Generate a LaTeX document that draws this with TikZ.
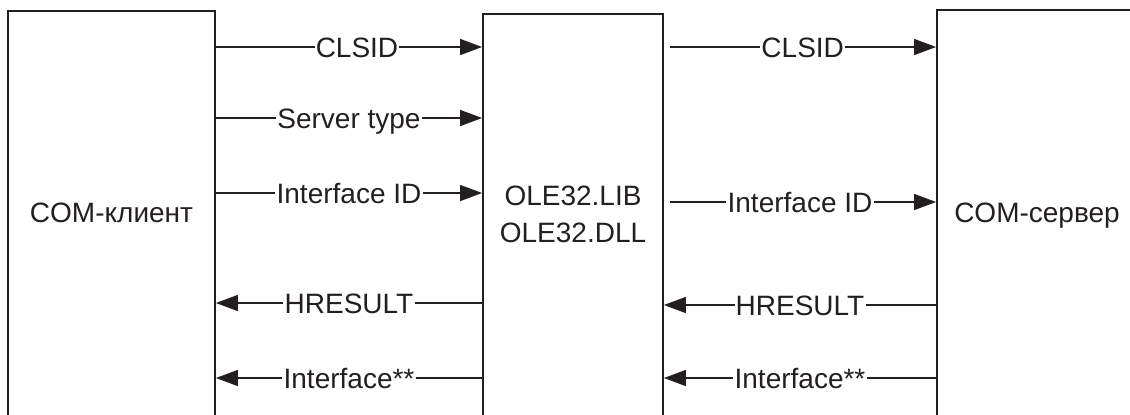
\documentclass[tikz,border=0pt]{standalone}
\usepackage{fontspec}
\setmainfont{Liberation Sans}
\usetikzlibrary{arrows.meta}
\definecolor{ink}{HTML}{231F20}
\tikzset{
  blk/.style={draw=ink, line width=0.9pt, rectangle, inner sep=0pt},
  msg/.style={draw=ink, line width=0.75pt, -{Triangle[length=11pt,width=8pt]}},
  lbl/.style={fill=white, text=ink, inner xsep=0.6pt, inner ysep=0pt, text height=10pt, text depth=0pt},
  ttl/.style={anchor=base, text=ink},
}
\begin{document}
\begin{tikzpicture}[x=0.5pt,y=-0.5pt,font=\fontsize{14}{18}\selectfont]
    \clip (0,0) rectangle (1130,414);
    \node[blk, minimum width=103.5pt, minimum height=214.65pt] (klient) at (111.5,225.35) {};
    \node[blk, minimum width=90pt, minimum height=213pt] (ole) at (573,227) {};
    \node[blk, minimum width=106.5pt, minimum height=215pt] (server) at (1043.5,225) {};
    \node[ttl] (kname) at (111.5,222) {COM-клиент};
    \node[ttl] (lib) at (573,205) {OLE32.LIB};
    \node[ttl] (dll) at (573,242) {OLE32.DLL};
    \node[ttl] (sname) at (1037,222) {COM-сервер};
    \draw[msg] (klient.east |- 0,47) -- (ole.west |- 0,47) node[lbl,pos=0.53] {CLSID};
    \draw[msg] (klient.east |- 0,118) -- (ole.west |- 0,118) node[lbl,midway] {Server type};
    \draw[msg] (klient.east |- 0,193) -- (ole.west |- 0,193) node[lbl,midway] {Interface ID};
    \draw[msg] (ole.west |- 0,303) -- (klient.east |- 0,303) node[lbl,midway] {HRESULT};
    \draw[msg] (ole.west |- 0,378) -- (klient.east |- 0,378) node[lbl,midway] {Interface**};
    \draw[msg, shorten <=3pt] (ole.east |- 0,47) -- (server.west |- 0,47) node[lbl,pos=0.51] {CLSID};
    \draw[msg, shorten <=3pt] (ole.east |- 0,202) -- (server.west |- 0,202) node[lbl,midway] {Interface ID};
    \draw[msg] (server.west |- 0,305) -- (ole.east |- 0,305) node[lbl,midway] {HRESULT};
    \draw[msg] (server.west |- 0,378) -- (ole.east |- 0,378) node[lbl,midway] {Interface**};
\end{tikzpicture}
\end{document}
